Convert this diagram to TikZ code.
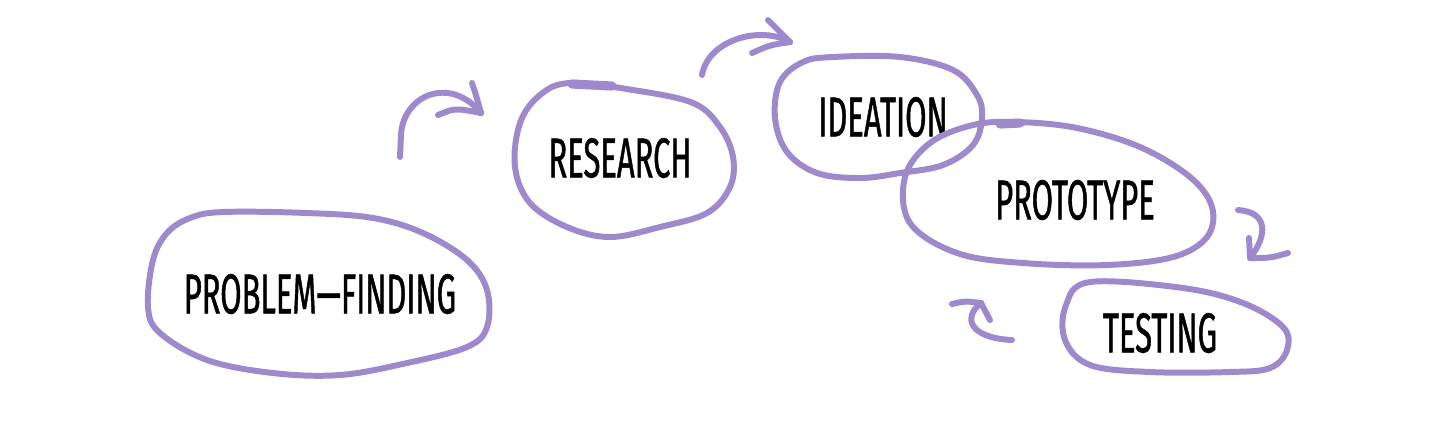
\documentclass[tikz,border=0pt]{standalone}
\usepackage{fontspec}
\newfontfamily\handfont[FakeStretch=0.55,FakeBold=0.8]{Fira Sans}
\definecolor{lav}{HTML}{9F89CD}
\begin{document}
\begin{tikzpicture}[x=0.01cm,y=-0.01cm,
  blob/.style={draw=lav, line width=1.7pt, line join=round},
  arrowline/.style={draw=lav, line width=1.7pt, line cap=round, line join=round},
  thickstroke/.style={draw=lav, line width=2.6pt, line cap=round},
  lbl/.style={font=\handfont\fontsize{16}{18}\selectfont, text=black, inner sep=0pt}]
\useasboundingbox (0,0) rectangle (1440,420);

% nodes (texts)
\node[lbl] (pf) at (320,294) {PROBLEM—FINDING};
\node[lbl] (re) at (620,158) {RESEARCH};
\node[lbl] (id) at (883,117) {IDEATION};
\node[lbl] (pr) at (1075,200) {PROTOTYPE};
\node[lbl] (te) at (1160,333) {TESTING};

% blobs
\draw[blob] plot[smooth cycle, tension=0.6] coordinates {
 (223,212) (307,213) (373,218) (423,233) (467,260) (487,290) (487,327)
 (467,347) (407,363) (340,375) (273,373) (207,360) (160,333) (148,307)
 (153,260) (167,233) (190,218)};
\draw[blob] plot[smooth cycle, tension=0.6] coordinates {
 (570,83) (633,90) (693,103) (720,127) (733,157) (730,187) (707,213)
 (660,227) (610,237) (567,227) (530,203) (515,167) (520,123) (540,95)};
\draw[thickstroke] (572,84) -- (612,86);
\draw[blob] plot[smooth cycle, tension=0.6] coordinates {
 (833,57) (900,57) (953,70) (977,95) (982,118) (973,145) (943,165)
 (900,173) (860,178) (817,173) (787,152) (775,118) (780,82) (803,62)};
\draw[blob] plot[smooth cycle, tension=0.6] coordinates {
 (1017,122) (1077,128) (1140,147) (1190,177) (1212,207) (1207,237)
 (1173,257) (1107,265) (1023,263) (957,253) (910,223) (905,177)
 (930,143) (973,125)};
\draw[thickstroke] (1000,124) -- (1020,123);
\draw[blob] plot[smooth cycle, tension=0.6] coordinates {
 (1090,282) (1183,288) (1243,303) (1283,327) (1287,350) (1270,368)
 (1230,372) (1150,372) (1090,365) (1065,340) (1066,305)};

% arrows
\coordinate (a1s) at (400,157);
\coordinate (a1t) at (481,113);
\draw[arrowline] (a1s) -- (401,135) .. controls (403,95) and (450,75) .. (a1t);
\draw[arrowline] (472,83) .. controls (476,95) .. (a1t);
\draw[arrowline] (438,115) .. controls (455,108) .. (a1t);

\coordinate (a2s) at (702,75);
\coordinate (a2t) at (790,42);
\draw[arrowline] (a2s) .. controls (708,40) and (760,25) .. (a2t);
\draw[arrowline] (768,20) -- (a2t);
\draw[arrowline] (752,53) .. controls (770,45) .. (a2t);

\coordinate (a3s) at (1238,210);
\coordinate (a3t) at (1250,258);
\draw[arrowline] (a3s) .. controls (1268,212) and (1268,235) .. (a3t);
\draw[arrowline] (1249,238) -- (a3t);
\draw[arrowline] (a3t) .. controls (1270,258) .. (1288,253);

\coordinate (a4s) at (1012,340);
\coordinate (a4t) at (981,303);
\draw[arrowline] (a4s) .. controls (970,338) and (962,318) .. (a4t);
\draw[arrowline] (952,304) .. controls (965,301) .. (a4t);
\draw[arrowline] (a4t) -- (990,320);
\end{tikzpicture}
\end{document}
